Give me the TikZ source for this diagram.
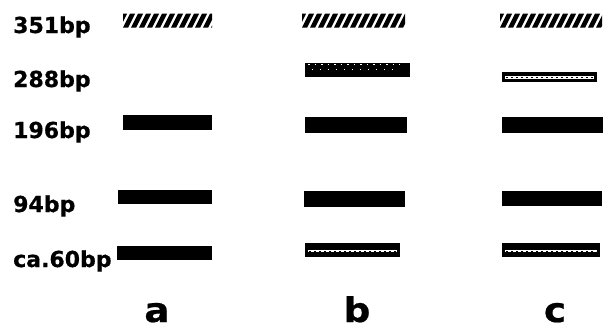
\documentclass[tikz,border=0pt]{standalone}
\usepackage{fontspec}
\setmainfont{DejaVu Sans}[BoldFeatures={FakeBold=0.6}]
\newcommand\hatchband[4]{%
  \begin{scope}
    \clip (#1,#2) rectangle (#3,#4);
    \foreach \k in {-2,...,15}{
      \fill[black] ({#1+\k*8},#4) -- ++(5.2,0) -- ++(7,{#2-#4}) -- ++(-5.2,0) -- cycle;
    }
  \end{scope}}
\begin{document}
\begin{tikzpicture}[x=1pt,y=-1pt,
  lbl/.style={font=\fontsize{22}{22}\selectfont\bfseries, anchor=base west, inner sep=0pt},
  lanelbl/.style={font=\fontsize{34}{34}\selectfont\bfseries, anchor=base, inner sep=0pt, xscale=1.1},
  bandfill/.style={fill=black},
  speck/.style={draw=white, line width=2.5pt},
  speckdash/.style={draw=black, line width=1pt, dash pattern=on 2pt off 3pt}]
\useasboundingbox (0,0) rectangle (609,332);
\fill[white] (0,0) rectangle (609,332);
% size labels
\node[lbl] (l351) at (13,33) {351bp};
\node[lbl] (l288) at (13,87) {288bp};
\node[lbl] (l196) at (13,138) {196bp};
\node[lbl] (l94) at (13,212) {94bp};
\node[lbl] (l60) at (13,267) {ca.60bp};
% hatched 351bp bands
\hatchband{123}{13.5}{212}{27.5}
\hatchband{302}{13.5}{405}{27.5}
\hatchband{500}{13.5}{602}{27.5}
% lane a
\fill[bandfill] (123,115) rectangle (212,130);
\fill[bandfill] (118,190) rectangle (212,204);
\fill[bandfill] (117,246) rectangle (212,260);
% lane b
\fill[bandfill] (305,63) rectangle (410,77);
\draw[draw=white, line width=1pt, dash pattern=on 1pt off 7pt] (312,69) -- (398,69);
\draw[draw=white, line width=0.7pt, dash pattern=on 1.5pt off 5pt] (308,64) -- (400,64);
\fill[bandfill] (305,117) rectangle (407,133);
\fill[bandfill] (304,191) rectangle (405,207);
\fill[bandfill] (305,243) rectangle (400,257);
\draw[speck] (308,251) -- (397,251);
\draw[speckdash] (309,251) -- (396,251);
% lane c
\fill[bandfill] (502,72) rectangle (597,82);
\draw[speck] (505,77.5) -- (594,77.5);
\draw[speckdash] (506,77.5) -- (593,77.5);
\fill[bandfill] (502,117) rectangle (603,133);
\fill[bandfill] (502,191) rectangle (602,206);
\fill[bandfill] (502,243) rectangle (600,257);
\draw[speck] (505,251) -- (597,251);
\draw[speckdash] (506,251) -- (596,251);
% lane labels
\node[lanelbl] (la) at (157,322) {a};
\node[lanelbl] (lb) at (357,322) {b};
\node[lanelbl] (lc) at (555,322) {c};
\end{tikzpicture}
\end{document}
